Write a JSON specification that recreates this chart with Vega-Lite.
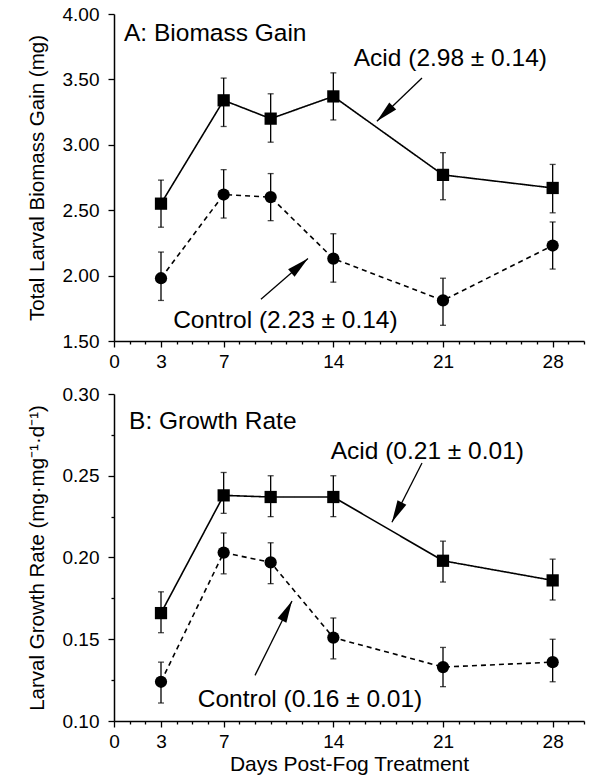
{
  "$schema": "https://vega.github.io/schema/vega-lite/v6.json",
  "background": "white",
  "padding": {"left": 26, "top": 5, "right": 4, "bottom": 4},
  "bounds": "flush",
  "spacing": 53,
  "config": {
    "font": "Liberation Sans",
    "view": {"stroke": null},
    "axis": {
      "grid": false,
      "domainColor": "black",
      "domainWidth": 1.5,
      "tickColor": "black",
      "tickWidth": 1.3,
      "labelColor": "black",
      "labelFont": "Liberation Sans",
      "labelFontSize": 19,
      "titleFont": "Liberation Sans",
      "titleFontWeight": "normal",
      "titleColor": "black",
      "titleFontSize": 20.5,
      "labelOverlap": false,
      "labelFlush": false
    }
  },
  "datasets": {
    "biomass": [
      {"group": "Acid", "day": 3, "value": 2.55, "lo": 2.37, "hi": 2.73},
      {"group": "Acid", "day": 7, "value": 3.34, "lo": 3.14, "hi": 3.51},
      {"group": "Acid", "day": 10, "value": 3.20, "lo": 3.02, "hi": 3.39},
      {"group": "Acid", "day": 14, "value": 3.37, "lo": 3.19, "hi": 3.55},
      {"group": "Acid", "day": 21, "value": 2.77, "lo": 2.58, "hi": 2.94},
      {"group": "Acid", "day": 28, "value": 2.67, "lo": 2.48, "hi": 2.85},
      {"group": "Control", "day": 3, "value": 1.98, "lo": 1.81, "hi": 2.18},
      {"group": "Control", "day": 7, "value": 2.62, "lo": 2.44, "hi": 2.81},
      {"group": "Control", "day": 10, "value": 2.60, "lo": 2.42, "hi": 2.78},
      {"group": "Control", "day": 14, "value": 2.13, "lo": 1.95, "hi": 2.32},
      {"group": "Control", "day": 21, "value": 1.81, "lo": 1.62, "hi": 1.98},
      {"group": "Control", "day": 28, "value": 2.23, "lo": 2.05, "hi": 2.41}
    ],
    "growth": [
      {"group": "Acid", "day": 3, "value": 0.166, "lo": 0.154, "hi": 0.179},
      {"group": "Acid", "day": 7, "value": 0.238, "lo": 0.227, "hi": 0.252},
      {"group": "Acid", "day": 10, "value": 0.237, "lo": 0.225, "hi": 0.250},
      {"group": "Acid", "day": 14, "value": 0.237, "lo": 0.225, "hi": 0.250},
      {"group": "Acid", "day": 21, "value": 0.198, "lo": 0.185, "hi": 0.210},
      {"group": "Acid", "day": 28, "value": 0.186, "lo": 0.174, "hi": 0.199},
      {"group": "Control", "day": 3, "value": 0.124, "lo": 0.111, "hi": 0.136},
      {"group": "Control", "day": 7, "value": 0.203, "lo": 0.190, "hi": 0.215},
      {"group": "Control", "day": 10, "value": 0.197, "lo": 0.184, "hi": 0.209},
      {"group": "Control", "day": 14, "value": 0.151, "lo": 0.138, "hi": 0.163},
      {"group": "Control", "day": 21, "value": 0.133, "lo": 0.121, "hi": 0.145},
      {"group": "Control", "day": 28, "value": 0.136, "lo": 0.124, "hi": 0.150}
    ],
    "arrowsA": [
      {"name": "acid", "x": 19.66, "y": 3.51, "x2": 16.78, "y2": 3.18},
      {"name": "control", "x": 9.38, "y": 1.82, "x2": 12.38, "y2": 2.13}
    ],
    "arrowsB": [
      {"name": "acid", "x": 19.66, "y": 0.2578, "x2": 17.74, "y2": 0.2216},
      {"name": "control", "x": 9.0, "y": 0.1279, "x2": 11.36, "y2": 0.1734}
    ],
    "titleA": [{"text": "A: Biomass Gain", "x": 0.64, "y": 3.79}],
    "notesA": [
      {"text": "Acid (2.98 ± 0.14)", "x": 21.47, "y": 3.60},
      {"text": "Control (2.23 ± 0.14)", "x": 10.94, "y": 1.60}
    ],
    "titleB": [{"text": "B: Growth Rate", "x": 0.96, "y": 0.2786}],
    "notesB": [
      {"text": "Acid (0.21 ± 0.01)", "x": 20.0, "y": 0.2602},
      {"text": "Control (0.16 ± 0.01)", "x": 12.51, "y": 0.1083}
    ]
  },
  "vconcat": [
    {
      "width": 470,
      "height": 327,
      "resolve": {"axis": {"x": "independent"}},
      "layer": [
        {
          "data": {"name": "biomass"},
          "mark": {"type": "line", "color": "black", "strokeWidth": 1.6},
          "encoding": {
            "x": {"field": "day", "type": "quantitative",
              "scale": {"domain": [0, 30], "nice": false, "zero": false},
              "axis": {
                "orient": "bottom",
                "title": null,
                "values": [0, 3, 7, 14, 21, 28],
                "tickSize": 6,
                "labelPadding": 5
              }},
            "y": {"field": "value", "type": "quantitative",
              "scale": {"domain": [1.5, 4.0], "nice": false, "zero": false},
              "axis": {
                "title": "Total Larval Biomass Gain (mg)",
                "values": [1.5,1.75,2,2.25,2.5,2.75,3,3.25,3.5,3.75,4],
                "format": ".2f",
                "labelExpr": "abs(datum.value*2 - round(datum.value*2)) < 0.001 ? datum.label : ''",
                "tickSize": {"condition": {"test": "abs(datum.value*2 - round(datum.value*2)) < 0.001", "value": 6}, "value": 3},
                "labelPadding": 9,
                "labelOverlap": false,
                "titleX": -71,
                "titleBaseline": "alphabetic",
                "titleAngle": 270
              }},
            "strokeDash": {"field": "group", "type": "nominal",
              "scale": {"domain": ["Acid", "Control"], "range": [[1, 0], [5, 4]]},
              "legend": null}
          }
        },
        {
          "data": {"name": "biomass"},
          "mark": {"type": "errorbar", "ticks": {"size": 6, "thickness": 1.3, "color": "black"}, "rule": {"strokeWidth": 1.3, "color": "black"}},
          "encoding": {
            "x": {"field": "day", "type": "quantitative", "axis": null},
            "y": {"field": "lo", "type": "quantitative", "title": "Total Larval Biomass Gain (mg)"},
            "y2": {"field": "hi"}
          }
        },
        {
          "data": {"name": "biomass"},
          "mark": {"type": "point", "filled": true, "color": "black", "opacity": 1, "size": 150},
          "encoding": {
            "x": {"field": "day", "type": "quantitative",
              "axis": {
                "orient": "bottom",
                "title": null,
                "values": [1,2,4,5,6,8,9,10,11,12,13,15,16,17,18,19,20,22,23,24,25,26,27,29,30],
                "labels": false,
                "domain": false,
                "tickSize": 3
              }},
            "y": {"field": "value", "type": "quantitative"},
            "shape": {"field": "group", "type": "nominal", "scale": {"domain": ["Acid", "Control"], "range": ["square", "circle"]}, "legend": null}
          }
        },
        {
          "data": {"name": "arrowsA"},
          "mark": {"type": "rule", "color": "black", "strokeWidth": 1.3},
          "encoding": {
            "x": {"field": "x", "type": "quantitative", "axis": null},
            "y": {"field": "y", "type": "quantitative"},
            "x2": {"field": "x2"},
            "y2": {"field": "y2"}
          }
        },
        {
          "data": {"name": "arrowsA"},
          "transform": [{"filter": "datum.name === 'acid'"}],
          "mark": {"type": "point", "shape": "M0,0L0.45,2L-0.45,2Z", "filled": true, "color": "black", "opacity": 1, "size": 484, "angle": 226},
          "encoding": {
            "x": {"field": "x2", "type": "quantitative", "axis": null},
            "y": {"field": "y2", "type": "quantitative"}
          }
        },
        {
          "data": {"name": "arrowsA"},
          "transform": [{"filter": "datum.name === 'control'"}],
          "mark": {"type": "point", "shape": "M0,0L0.45,2L-0.45,2Z", "filled": true, "color": "black", "opacity": 1, "size": 484, "angle": 49},
          "encoding": {
            "x": {"field": "x2", "type": "quantitative", "axis": null},
            "y": {"field": "y2", "type": "quantitative"}
          }
        },
        {
          "data": {"name": "titleA"},
          "mark": {"type": "text", "align": "left", "baseline": "alphabetic", "fontSize": 24.5, "color": "black"},
          "encoding": {
            "x": {"field": "x", "type": "quantitative", "axis": null},
            "y": {"field": "y", "type": "quantitative"},
            "text": {"field": "text"}
          }
        },
        {
          "data": {"name": "notesA"},
          "mark": {"type": "text", "align": "center", "baseline": "alphabetic", "fontSize": 24.5, "color": "black"},
          "encoding": {
            "x": {"field": "x", "type": "quantitative", "axis": null},
            "y": {"field": "y", "type": "quantitative"},
            "text": {"field": "text"}
          }
        }
      ]
    },
    {
      "width": 470,
      "height": 327,
      "resolve": {"axis": {"x": "independent"}},
      "layer": [
        {
          "data": {"name": "growth"},
          "mark": {"type": "line", "color": "black", "strokeWidth": 1.6},
          "encoding": {
            "x": {"field": "day", "type": "quantitative",
              "scale": {"domain": [0, 30], "nice": false, "zero": false},
              "axis": {
                "orient": "bottom",
                "title": "Days Post-Fog Treatment",
                "values": [0, 3, 7, 14, 21, 28],
                "tickSize": 6,
                "labelPadding": 5,
                "titleY": 49,
                "titleBaseline": "alphabetic",
                "titleFontSize": 21
              }},
            "y": {"field": "value", "type": "quantitative",
              "scale": {"domain": [0.1, 0.3], "nice": false, "zero": false},
              "axis": {
                "title": "Larval Growth Rate (mg·mg⁻¹·d⁻¹)",
                "values": [0.1,0.125,0.15,0.175,0.2,0.225,0.25,0.275,0.3],
                "format": ".2f",
                "labelExpr": "abs(datum.value*20 - round(datum.value*20)) < 0.001 ? datum.label : ''",
                "tickSize": {"condition": {"test": "abs(datum.value*20 - round(datum.value*20)) < 0.001", "value": 6}, "value": 3},
                "labelPadding": 9,
                "labelOverlap": false,
                "titleX": -71,
                "titleBaseline": "alphabetic",
                "titleAngle": 270
              }},
            "strokeDash": {"field": "group", "type": "nominal",
              "scale": {"domain": ["Acid", "Control"], "range": [[1, 0], [5, 4]]},
              "legend": null}
          }
        },
        {
          "data": {"name": "growth"},
          "mark": {"type": "errorbar", "ticks": {"size": 6, "thickness": 1.3, "color": "black"}, "rule": {"strokeWidth": 1.3, "color": "black"}},
          "encoding": {
            "x": {"field": "day", "type": "quantitative", "axis": null},
            "y": {"field": "lo", "type": "quantitative", "title": "Larval Growth Rate (mg·mg⁻¹·d⁻¹)"},
            "y2": {"field": "hi"}
          }
        },
        {
          "data": {"name": "growth"},
          "mark": {"type": "point", "filled": true, "color": "black", "opacity": 1, "size": 150},
          "encoding": {
            "x": {"field": "day", "type": "quantitative",
              "axis": {
                "orient": "bottom",
                "title": null,
                "values": [1,2,4,5,6,8,9,10,11,12,13,15,16,17,18,19,20,22,23,24,25,26,27,29,30],
                "labels": false,
                "domain": false,
                "tickSize": 3
              }},
            "y": {"field": "value", "type": "quantitative"},
            "shape": {"field": "group", "type": "nominal", "scale": {"domain": ["Acid", "Control"], "range": ["square", "circle"]}, "legend": null}
          }
        },
        {
          "data": {"name": "arrowsB"},
          "mark": {"type": "rule", "color": "black", "strokeWidth": 1.3},
          "encoding": {
            "x": {"field": "x", "type": "quantitative", "axis": null},
            "y": {"field": "y", "type": "quantitative"},
            "x2": {"field": "x2"},
            "y2": {"field": "y2"}
          }
        },
        {
          "data": {"name": "arrowsB"},
          "transform": [{"filter": "datum.name === 'acid'"}],
          "mark": {"type": "point", "shape": "M0,0L0.45,2L-0.45,2Z", "filled": true, "color": "black", "opacity": 1, "size": 484, "angle": 207},
          "encoding": {
            "x": {"field": "x2", "type": "quantitative", "axis": null},
            "y": {"field": "y2", "type": "quantitative"}
          }
        },
        {
          "data": {"name": "arrowsB"},
          "transform": [{"filter": "datum.name === 'control'"}],
          "mark": {"type": "point", "shape": "M0,0L0.45,2L-0.45,2Z", "filled": true, "color": "black", "opacity": 1, "size": 484, "angle": 27},
          "encoding": {
            "x": {"field": "x2", "type": "quantitative", "axis": null},
            "y": {"field": "y2", "type": "quantitative"}
          }
        },
        {
          "data": {"name": "titleB"},
          "mark": {"type": "text", "align": "left", "baseline": "alphabetic", "fontSize": 24.5, "color": "black"},
          "encoding": {
            "x": {"field": "x", "type": "quantitative", "axis": null},
            "y": {"field": "y", "type": "quantitative"},
            "text": {"field": "text"}
          }
        },
        {
          "data": {"name": "notesB"},
          "mark": {"type": "text", "align": "center", "baseline": "alphabetic", "fontSize": 24.5, "color": "black"},
          "encoding": {
            "x": {"field": "x", "type": "quantitative", "axis": null},
            "y": {"field": "y", "type": "quantitative"},
            "text": {"field": "text"}
          }
        }
      ]
    }
  ]
}
